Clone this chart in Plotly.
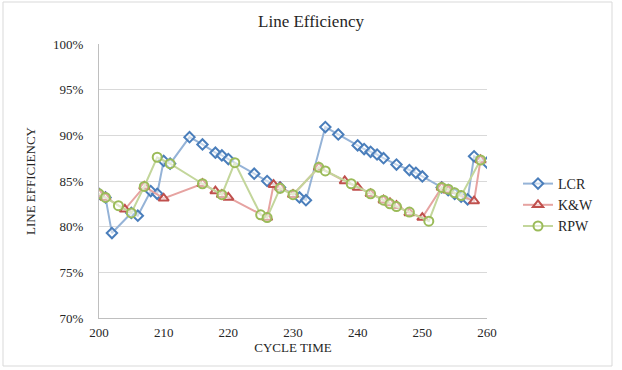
import plotly.graph_objects as go

lcr_x = [200, 201, 202, 205, 206, 208, 209, 210, 211, 214, 216, 218, 219, 220, 224, 226, 228, 231, 232,
         235, 237, 240, 241, 242, 243, 244, 246, 248, 249, 250, 253, 254, 255, 256, 257, 258, 260]
lcr_y = [83.6, 83.2, 79.3, 81.5, 81.2, 83.9, 83.6, 87.2, 86.9, 89.8, 89.0, 88.1, 87.8, 87.4, 85.8, 85.0, 84.3, 83.2, 82.9,
         90.9, 90.1, 88.9, 88.5, 88.2, 87.9, 87.5, 86.8, 86.2, 85.9, 85.5, 84.3, 84.0, 83.6, 83.3, 83.0, 87.7, 87.0]

kw_x = [200, 201, 204, 207, 210, 216, 218, 219, 220, 226, 227, 228, 230, 234, 238, 240, 242, 244, 245, 246,
        248, 250, 253, 254, 258, 259]
kw_y = [83.6, 83.2, 81.9, 84.4, 83.1, 84.7, 83.9, 83.5, 83.2, 81.0, 84.6, 84.3, 83.5, 86.5, 85.0, 84.3, 83.6, 82.9, 82.6, 82.3,
        81.5, 81.0, 84.3, 84.0, 82.8, 87.3]

rpw_x = [200, 201, 203, 205, 207, 209, 211, 216, 219, 221, 225, 226, 228, 230, 234, 235, 239, 242, 244, 245,
         246, 248, 251, 253, 254, 255, 256, 259]
rpw_y = [83.6, 83.2, 82.3, 81.5, 84.4, 87.6, 86.9, 84.7, 83.5, 87.0, 81.3, 81.0, 84.2, 83.5, 86.5, 86.1, 84.7, 83.6, 82.9, 82.5,
         82.2, 81.6, 80.6, 84.3, 84.1, 83.7, 83.4, 87.3]

x_ticks = [200, 210, 220, 230, 240, 250, 260]
y_ticks = [70, 75, 80, 85, 90, 95, 100]
y_labels = [f"{v}%" for v in y_ticks]

FONT = "Liberation Serif, Times New Roman, serif"

series = [
    ("LCR", lcr_x, lcr_y, "diamond", "#4A7EBB", "#95B3D7", 8),
    ("K&W", kw_x, kw_y, "triangle-up", "#C0504D", "#E6A3A1", 9),
    ("RPW", rpw_x, rpw_y, "circle", "#9BBB59", "#C3D69B", 9),
]

fig = go.Figure()
for name, xs, ys, sym, mc, lc, sz in series:
    fig.add_trace(go.Scatter(
        x=xs, y=[v / 100 for v in ys], name=name, mode="lines+markers",
        line=dict(color=lc, width=2),
        marker=dict(symbol=sym, size=sz, color="rgba(255,255,255,0.5)",
                    line=dict(color=mc, width=2)),
    ))

W, H = 622, 370
L, R, T, B = 99, 487, 44, 318
pw, ph = R - L, B - T

fig.update_layout(
    width=W, height=H,
    margin=dict(l=L, r=W - R, t=T, b=H - B),
    paper_bgcolor="white", plot_bgcolor="white",
    font=dict(family=FONT, color="#262626", size=13),
    title=dict(text="Line Efficiency", x=(311 - L) / pw, xref="paper", xanchor="center",
               y=1 - 21 / H, yanchor="middle", font=dict(size=17, family=FONT, color="#262626")),
    showlegend=True,
    legend=dict(x=(518 - L) / pw, xanchor="left", y=(B - 168) / ph, yanchor="top",
                font=dict(size=14, family=FONT, color="#262626"),
                bgcolor="rgba(0,0,0,0)", itemwidth=30, tracegroupgap=0),
    xaxis=dict(range=[200, 260], tickvals=x_ticks, showgrid=False, zeroline=False,
               showline=True, linecolor="#BFBFBF", linewidth=1,
               ticks="", ticklabelstandoff=2, tickfont=dict(size=13, family=FONT),
               title=dict(text="CYCLE TIME", font=dict(size=13, family=FONT), standoff=3)),
    yaxis=dict(range=[0.70, 1.00], tickvals=[v / 100 for v in y_ticks], ticktext=y_labels,
               showgrid=True, gridcolor="#D9D9D9", gridwidth=1, zeroline=False,
               showline=True, linecolor="#BFBFBF", linewidth=1,
               ticks="", ticklabelstandoff=12, tickfont=dict(size=13, family=FONT),
               title=dict(text="LINE EFFICIENCY", font=dict(size=13, family=FONT), standoff=14)),
    shapes=[dict(type="rect", xref="paper", yref="paper",
                 x0=(3 - L) / pw, x1=(612 - L) / pw, y0=(B - 366) / ph, y1=(B - 2) / ph,
                 line=dict(color="#D9D9D9", width=1), fillcolor="rgba(0,0,0,0)", layer="below")],
)

fig.write_html("out.html")
